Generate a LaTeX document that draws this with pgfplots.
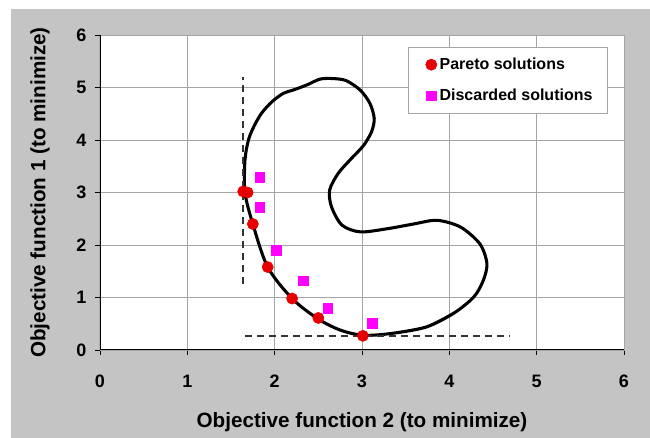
\documentclass[border=0pt]{standalone}
\usepackage{pgfplots}
\pgfplotsset{compat=1.18}
\usepackage{fontspec}
\setmainfont{Liberation Sans}
\definecolor{bggray}{RGB}{196,196,196}
\definecolor{gridgray}{RGB}{165,165,165}
\definecolor{paretored}{RGB}{230,0,0}
\definecolor{discmag}{RGB}{255,0,255}
\begin{document}
\begin{tikzpicture}
\useasboundingbox[fill=white] (-75pt,-66pt) rectangle (412.5pt,262.5pt);
\fill[bggray] (-66.75pt,-66pt) rectangle (412.5pt,255.75pt);
\begin{axis}[
  at={(0,0)}, anchor=origin,
  scale only axis, width=393pt, height=236.25pt,
  xmin=0, xmax=6, ymin=0, ymax=6,
  xtick={0,1,2,3,4,5,6}, ytick={0,1,2,3,4,5,6},
  /pgf/number format/assume math mode=true,
  tick pos=left, tick align=outside, major tick length=3.75pt,
  tick style={black, line width=0.7pt},
  grid=major, major grid style={gridgray, line width=0.6pt},
  axis line style={gridgray, line width=0.6pt},
  axis background/.style={fill=white},
  ticklabel style={font=\bfseries\fontsize{13.5}{15}\selectfont},
  xticklabel style={anchor=center, yshift=-20pt},
  yticklabel style={anchor=east, xshift=-3pt},
  xlabel={Objective function 2 (to minimize)},
  ylabel={Objective function 1 (to minimize)},
  label style={font=\bfseries\fontsize{15.5}{17}\selectfont},
  xlabel style={at={(axis description cs:0.5,0)}, anchor=center, yshift=-54pt},
  ylabel style={at={([xshift=-45pt]axis description cs:0,0.5)}, anchor=center},
  legend style={at={(0.588,0.962)}, anchor=north west, draw=gridgray, fill=white,
    font=\bfseries\fontsize{12}{13}\selectfont, inner xsep=9pt, inner ysep=6pt,
    row sep=9pt, cells={anchor=west}},
  legend image code/.code={\path (-8pt,0pt); \draw[#1] plot coordinates {(0cm,0cm)};},
]
% closed curve
\addplot[black, line width=2.3pt, smooth, forget plot] coordinates {
(4.05,0.70) (3.74,0.44) (3.36,0.32) (3.02,0.28) (2.75,0.38)
(2.49,0.60) (2.20,0.98) (1.92,1.58) (1.75,2.40) (1.66,3.00) (1.66,3.62)
(1.70,4.00) (1.76,4.25) (1.85,4.51) (1.97,4.73) (2.10,4.89) (2.21,4.95)
(2.37,5.05) (2.52,5.16) (2.67,5.17) (2.82,5.13) (2.98,4.95) (3.09,4.70)
(3.14,4.41) (3.11,4.16) (3.02,3.90) (2.88,3.65) (2.73,3.37) (2.63,3.05)
(2.65,2.73) (2.77,2.38) (2.98,2.25) (3.29,2.31) (3.59,2.40) (3.86,2.47)
(4.13,2.34) (4.35,2.02) (4.43,1.65) (4.39,1.33) (4.28,1.01) (4.05,0.70)
(3.74,0.44) (3.36,0.32)};
% dashed reference lines
\addplot[black!80, line width=1.4pt, dash pattern=on 5.5pt off 3.5pt, forget plot]
  coordinates {(1.64,1.25) (1.64,5.2)};
\addplot[black!80, line width=1.4pt, dash pattern=on 5.5pt off 3.5pt, forget plot]
  coordinates {(1.66,0.27) (4.70,0.27)};
% Pareto
\addplot[only marks, mark=*, mark size=4.2pt, color=paretored,
  mark options={fill=paretored, draw=paretored}] coordinates {
(1.64,3.02) (1.69,3.00) (1.75,2.40) (1.92,1.58) (2.20,0.98) (2.50,0.61) (3.01,0.27)};
\addlegendentry{Pareto solutions}
% Discarded
\addplot[only marks, mark=square*, mark size=3.6pt, color=discmag,
  mark options={fill=discmag, draw=discmag}] coordinates {
(1.83,3.29) (1.83,2.72) (2.02,1.90) (2.33,1.32) (2.61,0.79) (3.12,0.51)};
\addlegendentry{Discarded solutions}
\draw[black, line width=0.8pt] (rel axis cs:0,1) -- (rel axis cs:0,0) -- (rel axis cs:1,0);
\end{axis}
\end{tikzpicture}
\end{document}
